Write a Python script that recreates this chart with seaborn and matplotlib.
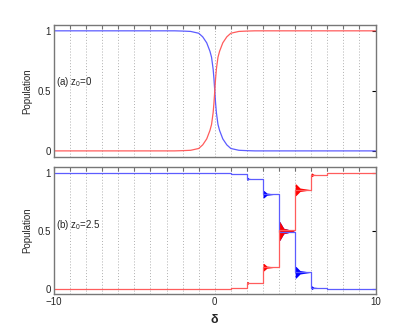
import numpy as np
import pandas as pd
import matplotlib
matplotlib.use('Agg')
import matplotlib.pyplot as plt
import seaborn as sns
from matplotlib.ticker import MultipleLocator, FixedLocator

# panel (a): z0=0, smooth crossing around delta=0
delta_a = [-10, -2.5, -2, -1.5, -1, -0.75, -0.5, -0.3, -0.2, -0.1, -0.05, 0,
           0.05, 0.1, 0.2, 0.3, 0.5, 0.75, 1, 1.5, 2, 2.5, 10]
blue_a = [1, 1, 0.998, 0.995, 0.98, 0.95, 0.9, 0.83, 0.78, 0.68, 0.6, 0.5,
          0.4, 0.32, 0.22, 0.17, 0.1, 0.05, 0.02, 0.005, 0.002, 0, 0]
red_a = [0, 0, 0.002, 0.005, 0.02, 0.05, 0.1, 0.17, 0.22, 0.32, 0.4, 0.5,
         0.6, 0.68, 0.78, 0.83, 0.9, 0.95, 0.98, 0.995, 0.998, 1, 1]

# panel (b): z0=2.5, staircase
delta_b = [-10, 1, 2, 3, 4, 5, 6, 7, 10]
blue_b = [1.0, 0.991, 0.951, 0.818, 0.495, 0.144, 0.011, 0.0, 0.0]
red_b = [0.0, 0.006, 0.052, 0.188, 0.505, 0.856, 0.985, 1.0, 1.0]

# oscillation bursts at the start of each step (start, length, half-height)
burst_start = [2, 3, 4, 5, 6]
burst_len = [0.4, 0.8, 0.95, 1.0, 0.5]
burst_amp = [0.012, 0.032, 0.08, 0.05, 0.015]
blue_burst_level = [0.951, 0.818, 0.5, 0.144, 0.011]
red_burst_level = [0.052, 0.188, 0.5, 0.856, 0.985]

sns.set_style('white')
plt.rcParams['font.family'] = ['Liberation Sans', 'DejaVu Sans']
plt.rcParams['mathtext.default'] = 'regular'
plt.rcParams['font.size'] = 7

fig = plt.figure(figsize=(4.15, 3.31), dpi=100)
ax1 = fig.add_axes([0.130, 0.526, 0.775, 0.399])
ax2 = fig.add_axes([0.130, 0.112, 0.775, 0.384])

c_blue = '#5c5cff'
c_red = '#ff5c5c'

df_a = pd.DataFrame({'delta': delta_a, 'blue': blue_a, 'red': red_a})
sns.lineplot(data=df_a, x='delta', y='blue', color=c_blue, lw=0.9, ax=ax1)
sns.lineplot(data=df_a, x='delta', y='red', color=c_red, lw=0.9, ax=ax1)

df_b = pd.DataFrame({'delta': delta_b, 'blue': blue_b, 'red': red_b})
sns.lineplot(data=df_b, x='delta', y='blue', color=c_blue, lw=0.9,
             drawstyle='steps-post', ax=ax2)
sns.lineplot(data=df_b, x='delta', y='red', color=c_red, lw=0.9,
             drawstyle='steps-post', ax=ax2)

# bursts: envelope decays from full amplitude to zero
for levels, col in [(blue_burst_level, 'blue'), (red_burst_level, 'red')]:
    for s, L, a, lv in zip(burst_start, burst_len, burst_amp, levels):
        xs = np.array([s, s + 0.05, s + 0.3 * L, s + L])
        env = np.array([a, a, 0.3 * a, 0.0])
        ax2.fill_between(xs, lv - env, lv + env, color=col, lw=0)

for ax, lims in [(ax1, (-0.05, 1.05)), (ax2, (-0.043, 1.054))]:
    ax.set_xlim(-10, 10)
    ax.set_ylim(*lims)
    ax.xaxis.set_major_locator(FixedLocator([-10, 0, 10]))
    ax.xaxis.set_minor_locator(MultipleLocator(1))
    ax.set_yticks([0, 0.5, 1])
    ax.set_yticklabels(['0', '0.5', '1'])
    ax.tick_params(which='both', direction='in', top=True, right=True,
                   length=3, width=0.8, color='#707070', labelsize=7, pad=2)
    ax.tick_params(axis='y', color='black')
    ax.grid(True, which='both', axis='x', ls=(0, (1, 2)), color='#b0b0b0', lw=0.7)
    for sp in ax.spines.values():
        sp.set_color('#777777')
        sp.set_linewidth(1.0)
    ax.set_ylabel('Population', fontsize=7, labelpad=4)

ax1.set_xlabel('')
ax1.tick_params(labelbottom=False)
ax2.set_xlabel('δ', fontsize=9, fontweight='bold', labelpad=5)

ax1.text(-9.9, 0.57, '(a) z$_0$=0', fontsize=7, va='center')
ax2.text(-9.9, 0.55, '(b) z$_0$=2.5', fontsize=7, va='center')

fig.savefig('out.png', dpi=100)
